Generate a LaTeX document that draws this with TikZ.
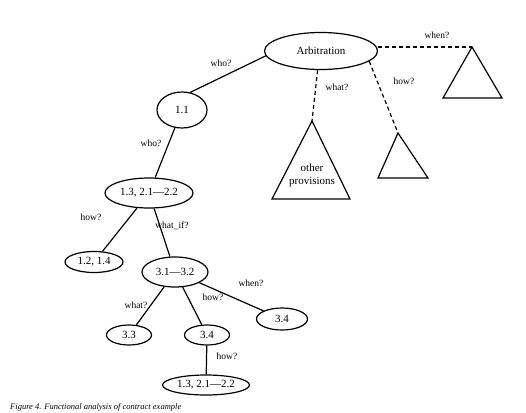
\documentclass[tikz,border=0pt]{standalone}
\usepackage{fontspec}
\setmainfont{Liberation Serif}
\usetikzlibrary{shapes.geometric}
\begin{document}
\begin{tikzpicture}[x=1pt,y=-1pt,
  ell/.style={draw,ellipse,line width=1.2pt,inner sep=0pt,font=\fontsize{11}{12}\selectfont},
  lbl/.style={inner sep=0pt,font=\fontsize{9.5}{10}\selectfont},
  conn/.style={line width=1.2pt},
  dconn/.style={line width=1.2pt,dash pattern=on 4pt off 3pt},
  tri/.style={line width=1.2pt,line join=miter}]
\useasboundingbox[fill=white] (0,0) rectangle (526,412);
% ellipse nodes
\node[ell,minimum width=113pt,minimum height=37pt] (arb) at (321,51) {Arbitration};
\node[ell,minimum width=50pt,minimum height=36pt] (n11) at (182,110) {1.1};
\node[ell,minimum width=88pt,minimum height=30pt] (n13) at (149,193) {1.3, 2.1---2.2};
\node[ell,minimum width=58pt,minimum height=21pt] (n12) at (94,262) {1.2, 1.4};
\node[ell,minimum width=66pt,minimum height=30pt] (n31) at (175,272) {3.1---3.2};
\node[ell,minimum width=45pt,minimum height=20pt] (n33) at (129,335) {3.3};
\node[ell,minimum width=45pt,minimum height=20pt] (n34a) at (207,335) {3.4};
\node[ell,minimum width=51pt,minimum height=22pt] (n34b) at (282,319) {3.4};
\node[ell,minimum width=87pt,minimum height=20pt] (n13b) at (206,385) {1.3, 2.1---2.2};
% triangles
\coordinate (ta1) at (312,121);
\draw[tri] (ta1) -- (350,199) -- (272,199) -- cycle;
\node[inner sep=0pt,align=center,font=\fontsize{11}{13}\selectfont] (oth) at (312,175) {other\\provisions};
\coordinate (ta2) at (398,133);
\draw[tri] (ta2) -- (428,178) -- (378,178) -- cycle;
\coordinate (ta3) at (472,47);
\draw[tri] (ta3) -- (502,98) -- (443,98) -- cycle;
% connectors
\draw[conn] (arb.185) -- (n11.65);
\draw[dconn] (arb.-100) -- (ta1);
\draw[dconn] (arb.-12) -- (ta2);
\draw[dconn] (arb.east |- ta3) -- (ta3);
\draw[conn] (n11) -- (n13);
\draw[conn] (n13) -- (n12);
\draw[conn] (n13) -- (n31);
\draw[conn] (n31) -- (n33);
\draw[conn] (n31) -- (n34a);
\draw[conn] (n31) -- (n34b);
\draw[conn] (n34a) -- (n13b);
% labels
\node[lbl] (l1) at (221,63) {who?};
\node[lbl] (l2) at (337,87) {what?};
\node[lbl] (l3) at (404,81) {how?};
\node[lbl] (l4) at (437,35) {when?};
\node[lbl] (l5) at (151,143) {who?};
\node[lbl] (l6) at (91,217) {how?};
\node[lbl] (l7) at (172,226) {what\_if?};
\node[lbl] (l8) at (136,305) {what?};
\node[lbl] (l9) at (213,297) {how?};
\node[lbl] (l10) at (251,283) {when?};
\node[lbl] (l11) at (227,356) {how?};
% caption
\node[anchor=west,inner sep=0pt,font=\fontsize{8.5}{9}\selectfont\itshape] (cap) at (10,407) {Figure 4. Functional analysis of contract example};
\end{tikzpicture}
\end{document}
